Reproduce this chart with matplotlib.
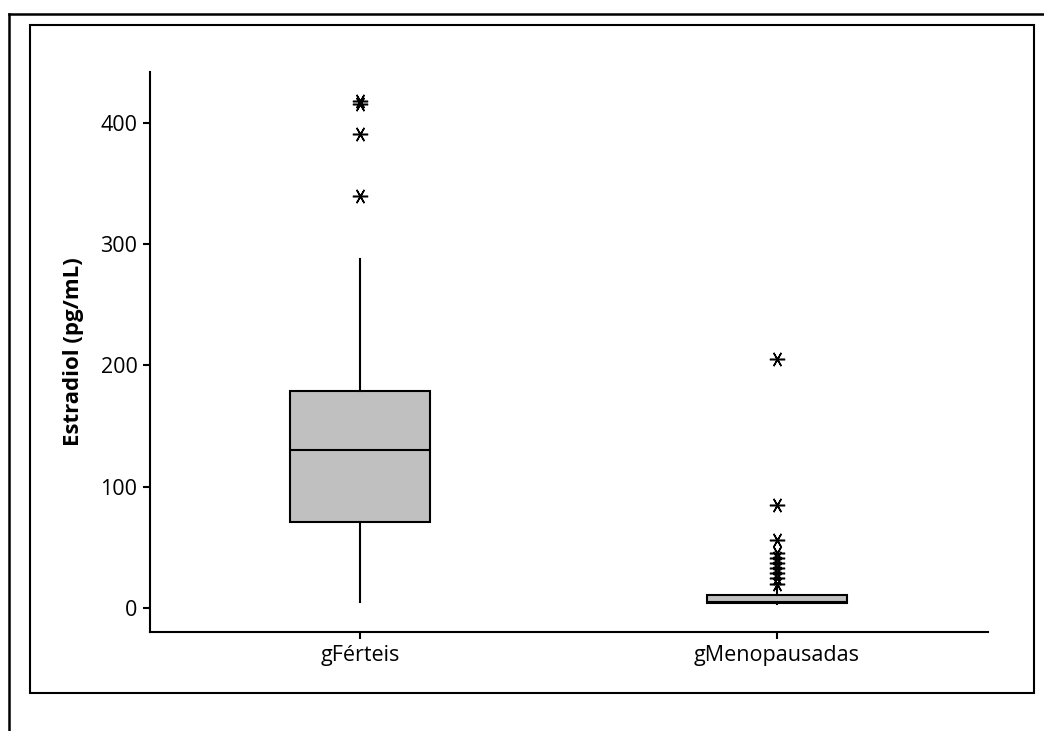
import matplotlib
matplotlib.use("Agg")
import matplotlib.pyplot as plt
from matplotlib.lines import Line2D
from matplotlib.patches import Rectangle

plt.rcParams['font.family'] = ['Open Sans', 'DejaVu Sans']

categories = ["gFérteis", "gMenopausadas"]
whislo = [4.5, 3.0]
q1 = [70.6, 4.0]
med = [130.0, 5.0]
q3 = [179.0, 10.5]
whishi = [288.0, 18.0]
fliers = [
    [340.0, 391.0, 416.0, 418.0],
    [205.0, 85.0, 56.0, 45.0, 41.0, 37.0, 33.0, 29.0, 24.5, 20.0],
]
yticks = [0, 100, 200, 300, 400]
ylabel = "Estradiol (pg/mL)"

W, H = 1044, 731
fig = plt.figure(figsize=(W / 100, H / 100), dpi=100)
ax = fig.add_axes([150 / W, 1 - 632 / H, (988 - 150) / W, (632 - 72) / H])

stats = []
for i, c in enumerate(categories):
    stats.append(dict(label=c, whislo=whislo[i], q1=q1[i], med=med[i],
                      q3=q3[i], whishi=whishi[i], fliers=fliers[i]))

ax.bxp(stats, positions=[1, 2], widths=0.336, patch_artist=True,
       showcaps=False,
       boxprops=dict(facecolor="#C0C0C0", edgecolor="black", linewidth=1.5),
       medianprops=dict(color="black", linewidth=1.5),
       whiskerprops=dict(color="black", linewidth=1.5),
       flierprops=dict(marker=(6, 2, 90), markersize=11, markeredgewidth=1.1,
                       markeredgecolor="black", markerfacecolor="black",
                       linestyle="none"))

ax.set_xlim(0.496, 2.506)
ax.set_ylim(-20, 442)
ax.set_yticks(yticks)
ax.set_xticks([1, 2])
ax.set_xticklabels(categories)
for s in ["top", "right"]:
    ax.spines[s].set_visible(False)
for s in ["left", "bottom"]:
    ax.spines[s].set_linewidth(1.5)
ax.tick_params(axis="both", direction="out", length=5, width=1.5,
               labelsize=15.5, colors="black", pad=4)
ax.set_ylabel(ylabel, fontsize=16, fontweight="bold", labelpad=12)

# inner frame
fig.add_artist(Rectangle((30 / W, 1 - 693 / H), (1034 - 30) / W, (693 - 25) / H,
                         transform=fig.transFigure, fill=False,
                         edgecolor="black", linewidth=1.5))
# outer frame (top and left only visible)
fig.add_artist(Line2D([9 / W, 1.0], [1 - 14 / H, 1 - 14 / H],
                      transform=fig.transFigure, color="black", linewidth=1.8))
fig.add_artist(Line2D([9 / W, 9 / W], [1 - 14 / H, 0.0],
                      transform=fig.transFigure, color="black", linewidth=1.8))

fig.savefig("out.png", dpi=100)
